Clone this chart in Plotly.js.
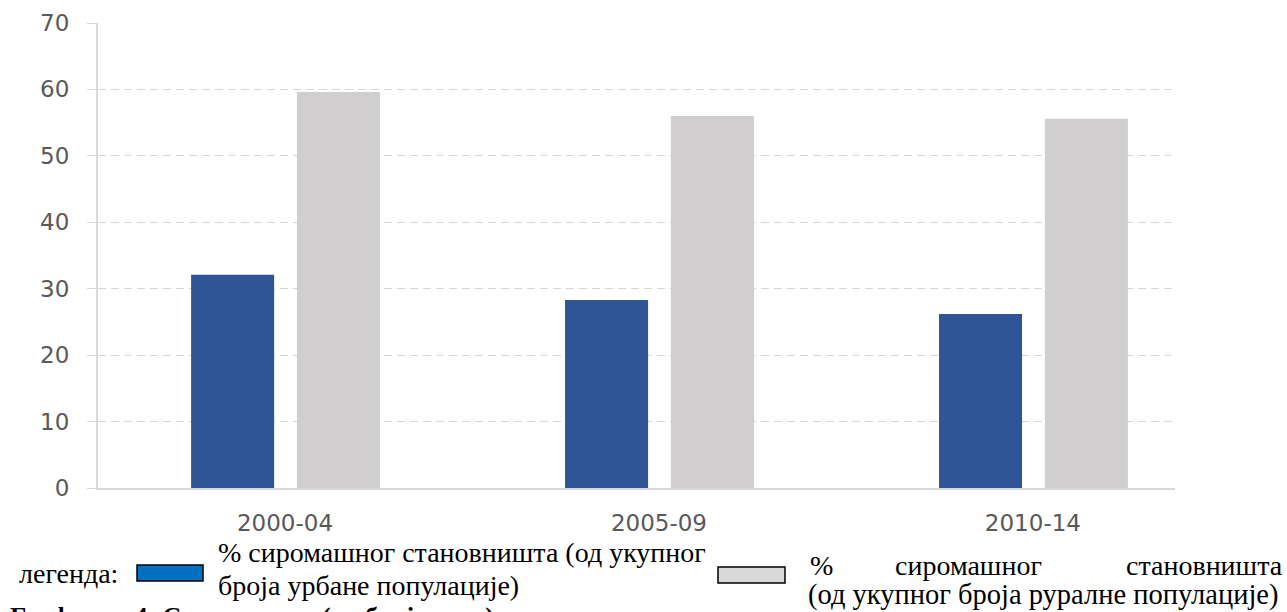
<!DOCTYPE html>
<html>
<head>
<meta charset="utf-8">
<script src="https://cdn.plot.ly/plotly-3.0.1.min.js"></script>
<style>html,body{margin:0;padding:0;background:#fff;}#chart{width:1287px;height:612px;}</style>
</head>
<body>
<div id="chart"></div>
<script>
const categories = ["2000-04", "2005-09", "2010-14"];
const urbanPoor = [32.1, 28.3, 26.2];
const ruralPoor = [59.6, 56.0, 55.6];
const yTicks = [0, 10, 20, 30, 40, 50, 60, 70];

const W = 1287, H = 612;
const L = 98, R = 1175, T = 23, B = 488;
const px = x => (x - L) / (R - L);
const py = y => (B - y) / (B - T);

const traces = [
  {type: 'bar', x: categories, y: urbanPoor, width: 0.222, offset: -0.251,
   marker: {color: '#2f5597', line: {width: 0}}, showlegend: false, hoverinfo: 'skip'},
  {type: 'bar', x: categories, y: ruralPoor, width: 0.222, offset: 0.032,
   marker: {color: '#d0cece', line: {width: 0}}, showlegend: false, hoverinfo: 'skip'}
];

const serif = 'Liberation Serif, Times New Roman, serif';
const legFont = {family: serif, size: 28, color: '#000'};

const annotations = [
  {text: 'легенда:', x: px(17), y: py(573), xanchor: 'left', yanchor: 'middle'},
  {text: '% сиромашног становништа (од укупног', x: px(216), y: py(553), xanchor: 'left', yanchor: 'middle'},
  {text: 'броја урбане популације)', x: px(216), y: py(585), xanchor: 'left', yanchor: 'middle'},
  {text: '%', x: px(808), y: py(565), xanchor: 'left', yanchor: 'middle'},
  {text: 'сиромашног', x: px(968), y: py(565), xanchor: 'center', yanchor: 'middle'},
  {text: 'становништа', x: px(1285), y: py(565), xanchor: 'right', yanchor: 'middle'},
  {text: '(од укупног броја руралне популације)', x: px(806), y: py(595), xanchor: 'left', yanchor: 'middle',
   font: {family: serif, size: 28.5, color: '#000'}},
  {text: '<b>Графикон 4: Сиромаштво (по бројевима)</b>', x: px(8), y: py(600), xanchor: 'left', yanchor: 'top',
   font: {family: serif, size: 26, color: '#000'}}
].map(a => Object.assign({xref: 'paper', yref: 'paper', showarrow: false, font: legFont, align: 'left'}, a));

const shapes = [
  {type: 'rect', xref: 'paper', yref: 'paper', x0: px(137), x1: px(203), y0: py(565), y1: py(581),
   fillcolor: '#0070c0', line: {color: '#000', width: 1.5}},
  {type: 'rect', xref: 'paper', yref: 'paper', x0: px(718), x1: px(785), y0: py(567), y1: py(583),
   fillcolor: '#d9d9d9', line: {color: '#000', width: 1.5}}
];

const layout = {
  width: W, height: H,
  margin: {l: L, r: W - R, t: T, b: H - B, pad: 0},
  paper_bgcolor: '#fff', plot_bgcolor: '#fff',
  barmode: 'overlay',
  xaxis: {
    type: 'category', range: [-0.5, 2.38], showgrid: false, zeroline: false,
    showline: true, linecolor: '#d9d9d9', linewidth: 2,
    ticks: '', ticklabelstandoff: 13,
    tickfont: {family: 'DejaVu Sans, sans-serif', size: 23, color: '#595959'}
  },
  yaxis: {
    range: [0, 70], tickvals: yTicks, ticktext: yTicks.map(String),
    showgrid: true, gridcolor: '#d6d6d6', gridwidth: 1, griddash: '8px,5px',
    zeroline: false, showline: true, linecolor: '#d9d9d9', linewidth: 2,
    ticks: 'outside', ticklen: 9, tickcolor: '#d9d9d9', tickwidth: 1,
    ticklabelstandoff: 13,
    tickfont: {family: 'DejaVu Sans, sans-serif', size: 23, color: '#595959'}
  },
  annotations: annotations,
  shapes: shapes
};

Plotly.newPlot('chart', traces, layout, {displayModeBar: false, staticPlot: true});
</script>
</body>
</html>
